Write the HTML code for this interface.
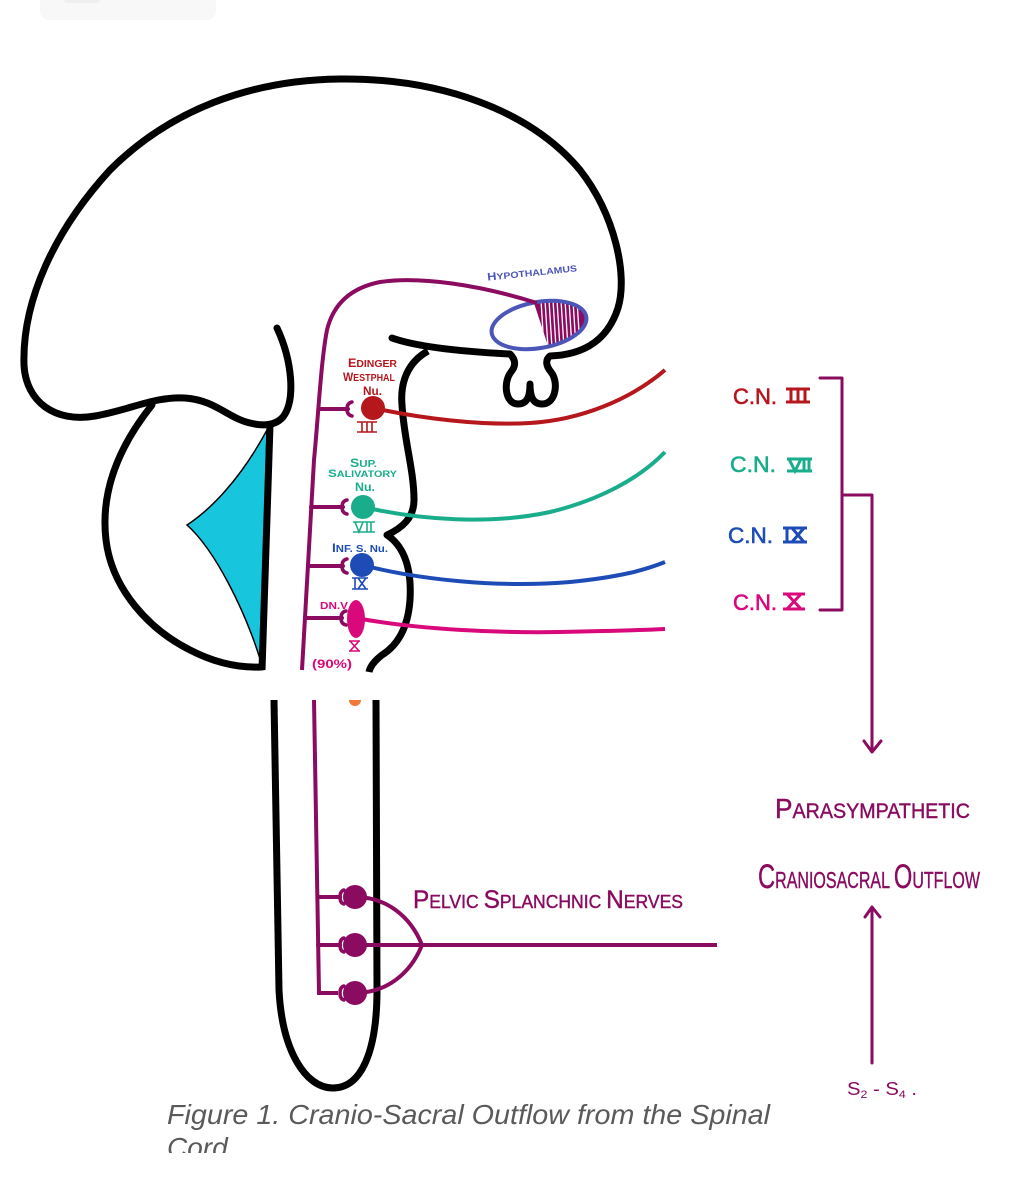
<!DOCTYPE html>
<html>
<head>
<meta charset="utf-8">
<style>
html,body{margin:0;padding:0;background:#fff;}
svg{display:block;}
text{font-family:"Liberation Sans",sans-serif;}
</style>
</head>
<body>
<svg width="1030" height="1194" viewBox="0 0 1030 1194" xmlns="http://www.w3.org/2000/svg">
<defs>
<clipPath id="hypclip"><path d="M534,303 C 560,298 586,306 588,318 C 586,332 566,342 548,346 Z"/></clipPath>
<clipPath id="capclip"><rect x="0" y="1090" width="1030" height="63"/></clipPath>
</defs>
<rect width="1030" height="1194" fill="#fff"/>
<rect x="40" y="-12" width="176" height="32" rx="9" fill="#f8f8f8"/>
<rect x="64" y="-6" width="36" height="9" rx="3" fill="#efefef"/>

<!-- cyan triangle -->
<path d="M267,430 C 240,480 210,510 187,525 C 215,550 245,610 261,662 Z" fill="#17c6dd" stroke="#000" stroke-width="1.5"/>

<g fill="none" stroke="#000" stroke-width="7" stroke-linecap="round" stroke-linejoin="round">
<!-- cerebrum -->
<path d="M277,328 C 292,360 296,400 283,417 C 275,426 262,426 250,423 C 228,418 215,400 185,398 C 155,396 130,410 95,416 C 55,423 26,402 24,365 C 22,300 55,230 110,170 C 170,110 250,80 340,79 C 440,78 530,110 580,170 C 615,215 628,275 618,308 C 606,345 578,355 550,356 C 545,360 546,366 551,372 C 559,382 556,404 542,404 C 532,404 530,395 530,384 C 530,395 528,404 518,404 C 505,404 503,382 511,372 C 516,366 516,360 510,354 C 470,352 420,348 392,338"/>
<!-- cerebellum -->
<path d="M152,405 C 120,445 100,490 106,540 C 112,590 150,630 190,650 C 215,663 240,668 262,667"/>
<path d="M270,425 L262,670" stroke-linecap="butt"/>
<!-- brainstem -->
<path d="M428,351 C 408,362 400,382 402,405 C 404,440 414,470 414,500 C 414,518 402,528 387,535 C 402,545 412,565 410,600 C 408,628 398,645 382,655 C 373,662 370,667 369,672" stroke-linecap="butt"/>
<!-- lower cord -->
<path d="M274,700 L279,990 C 282,1050 305,1088 333,1088 C 362,1088 377,1050 377,990 L376,700" stroke-linecap="butt"/>
</g>

<!-- hypothalamus -->
<path d="M534,303 C 560,298 586,306 588,318 C 586,332 566,342 548,346 Z" fill="#8a0b5f"/>
<g clip-path="url(#hypclip)" stroke="#fff" stroke-width="1.3">
<line x1="541" y1="300" x2="544" y2="348"/>
<line x1="545" y1="300" x2="548" y2="348"/>
<line x1="549" y1="300" x2="552" y2="348"/>
<line x1="553" y1="300" x2="556" y2="348"/>
<line x1="557" y1="300" x2="560" y2="348"/>
<line x1="561" y1="300" x2="564" y2="348"/>
<line x1="565" y1="300" x2="568" y2="348"/>
<line x1="569" y1="300" x2="572" y2="348"/>
<line x1="573" y1="300" x2="576" y2="348"/>
<line x1="577" y1="300" x2="580" y2="348"/>
</g>
<ellipse cx="539" cy="325" rx="48" ry="23" transform="rotate(-10 539 325)" fill="none" stroke="#4b56b8" stroke-width="4"/>
<text x="487" y="276" font-size="9" font-weight="bold" fill="#4b56b8" transform="rotate(-6 532 272)" textLength="90" lengthAdjust="spacingAndGlyphs"><tspan font-size="11">H</tspan>YPOTHALAMUS</text>

<!-- purple tract upper -->
<g fill="none" stroke="#8a0b5f" stroke-width="4" stroke-linecap="round">
<path d="M537,303 C 480,285 420,276 380,282 C 350,288 333,305 327,330 C 321,360 318,420 314,460 L302,670" stroke-linecap="butt"/>
<path d="M319,409 L348,409"/>
<path d="M311,507 L343,507"/>
<path d="M308,566 L343,566"/>
<path d="M305,618 L342,618"/>
<path d="M352,402 Q347,403 347,409 Q347,415 352,416" stroke-width="3.5"/>
<path d="M347,500 Q342,501 342,507 Q342,513 347,514" stroke-width="3.5"/>
<path d="M347,559 Q342,560 342,566 Q342,572 347,573" stroke-width="3.5"/>
<path d="M346,611 Q341,612 341,618 Q341,624 346,625" stroke-width="3.5"/>
</g>

<!-- nerves -->
<g fill="none" stroke-width="4" stroke-linecap="butt">
<path d="M373,408 C 420,418 480,426 530,423 C 580,420 630,400 665,370" stroke="#b5171d"/>
<path d="M363,507 C 420,520 490,525 550,512 C 600,500 640,478 665,452" stroke="#1aad8c"/>
<path d="M362,565 C 420,580 500,588 570,582 C 620,577 645,570 665,562" stroke="#1e4cb7"/>
<path d="M356,618 C 420,630 500,633 560,632 C 610,631 645,630 665,629" stroke="#d9097c"/>
</g>
<circle cx="373" cy="408" r="12" fill="#b5171d"/>
<circle cx="363" cy="507" r="12" fill="#1aad8c"/>
<circle cx="362" cy="565" r="12" fill="#1e4cb7"/>
<ellipse cx="356" cy="619" rx="9" ry="19" fill="#d9097c"/>

<!-- nucleus labels -->
<g font-weight="bold">
<text x="348" y="367" font-size="10" fill="#b5171d" textLength="49" lengthAdjust="spacingAndGlyphs"><tspan font-size="12">E</tspan>DINGER</text>
<text x="343" y="381" font-size="10" fill="#b5171d" textLength="52" lengthAdjust="spacingAndGlyphs"><tspan font-size="12">W</tspan>ESTPHAL</text>
<text x="363" y="395" font-size="12" fill="#b5171d" textLength="19" lengthAdjust="spacingAndGlyphs">Nu.</text>
<text x="350" y="467" font-size="10" fill="#1aad8c" textLength="27" lengthAdjust="spacingAndGlyphs"><tspan font-size="12">S</tspan>UP.</text>
<text x="328" y="477" font-size="9" fill="#1aad8c" textLength="69" lengthAdjust="spacingAndGlyphs"><tspan font-size="11">S</tspan>ALIVATORY</text>
<text x="355" y="491" font-size="12" fill="#1aad8c" textLength="20" lengthAdjust="spacingAndGlyphs">Nu.</text>
<text x="332" y="552" font-size="10" fill="#1e4cb7" textLength="56" lengthAdjust="spacingAndGlyphs"><tspan font-size="12">I</tspan>NF. S. Nu.</text>
<text x="320" y="609" font-size="10" fill="#d9097c" textLength="28" lengthAdjust="spacingAndGlyphs">DN.V</text>
<text x="312" y="668" font-size="12" fill="#d9097c" textLength="40" lengthAdjust="spacingAndGlyphs">(90%)</text>
</g>
<!-- small numerals -->
<g fill="none" stroke-width="1.6">
<g stroke="#b5171d"><path d="M357,422 H377 M357,432 H377 M362,422 V432 M367,422 V432 M372,422 V432"/></g>
<g stroke="#1aad8c"><path d="M353,522 H375 M353,532 H375 M355,522 L359,532 L363,522 M367,522 V532 M371,522 V532"/></g>
<g stroke="#1e4cb7"><path d="M352,578 H368 M352,589 H368 M355,578 V589 M358,578 L366,589 M366,578 L358,589"/></g>
<g stroke="#d9097c"><path d="M349,641 H360 M349,651 H360 M350,641 L359,651 M359,641 L350,651"/></g>
</g>

<!-- orange -->
<path d="M349,700 A6,6 0 0 0 361,700 Z" fill="#f07838"/>

<!-- lower purple -->
<g fill="none" stroke="#8a0b5f" stroke-width="4" stroke-linecap="round">
<path d="M314,700 L319,993 L338,993" stroke-linecap="butt"/>
<path d="M318,897 L340,897"/>
<path d="M318,945 L340,945"/>
<path d="M344,890 Q340,891 340,897 Q340,903 344,904" stroke-width="3.5"/>
<path d="M344,938 Q340,939 340,945 Q340,951 344,952" stroke-width="3.5"/>
<path d="M344,986 Q340,987 340,993 Q340,999 344,1000" stroke-width="3.5"/>
<path d="M355,897 C 385,897 410,915 422,945 C 410,975 385,993 355,993"/>
<path d="M355,945 L717,945" stroke-linecap="butt"/>
</g>
<circle cx="355" cy="897" r="12" fill="#8a0b5f"/>
<circle cx="355" cy="945" r="12" fill="#8a0b5f"/>
<circle cx="355" cy="993" r="12" fill="#8a0b5f"/>

<text x="413" y="908" font-size="18" fill="#8a0b5f" stroke="#8a0b5f" stroke-width="0.4" textLength="270" lengthAdjust="spacingAndGlyphs"><tspan font-size="25">P</tspan>ELVIC  <tspan font-size="25">S</tspan>PLANCHNIC  <tspan font-size="25">N</tspan>ERVES</text>

<!-- right labels -->
<g font-size="22" stroke-width="0.6">
<text x="733" y="404" fill="#b5171d" stroke="#b5171d" textLength="44" lengthAdjust="spacingAndGlyphs">C.N.</text>
<text x="730" y="472" fill="#1aad8c" stroke="#1aad8c" textLength="46" lengthAdjust="spacingAndGlyphs">C.N.</text>
<text x="728" y="543" fill="#1e4cb7" stroke="#1e4cb7" textLength="45" lengthAdjust="spacingAndGlyphs">C.N.</text>
<text x="733" y="610" fill="#d9097c" stroke="#d9097c" textLength="44" lengthAdjust="spacingAndGlyphs">C.N.</text>
</g>
<g fill="none" stroke-width="3">
<path stroke="#b5171d" d="M786,389 H810 M786,402 H810 M791,389 V402 M798,389 V402 M805,389 V402"/>
<path stroke="#1aad8c" d="M787,459 H812 M787,471 H812 M789,459 L795,471 L801,459 M804,459 V471 M809,459 V471"/>
<path stroke="#1e4cb7" d="M783,528 H807 M783,542 H807 M787,528 V542 M792,528 L804,542 M804,528 L792,542"/>
<path stroke="#d9097c" d="M783,594 H805 M783,609 H805 M787,594 L801,609 M801,594 L787,609"/>
</g>

<!-- bracket & arrows -->
<g fill="none" stroke="#8a0b5f" stroke-width="3" stroke-linecap="round" stroke-linejoin="round">
<path d="M820,378 L842,378 L842,610 L820,610"/>
<path d="M842,495 L872,495 L872,751"/>
<path d="M864,741 L872,752 L881,741"/>
<path d="M872,1063 L872,908"/>
<path d="M865,917 L872,907 L880,917"/>
</g>

<text x="775" y="818" font-size="21" fill="#8a0b5f" stroke="#8a0b5f" stroke-width="0.4" textLength="195" lengthAdjust="spacingAndGlyphs"><tspan font-size="28">P</tspan>ARASYMPATHETIC</text>
<text x="758" y="888" font-size="23" fill="#8a0b5f" stroke="#8a0b5f" stroke-width="0.4" textLength="222" lengthAdjust="spacingAndGlyphs"><tspan font-size="34">C</tspan>RANIOSACRAL <tspan font-size="34">O</tspan>UTFLOW</text>
<text x="847" y="1095" font-size="18" fill="#8a0b5f" textLength="70" lengthAdjust="spacingAndGlyphs">S<tspan font-size="11" dy="3">2</tspan><tspan dy="-3"> - S</tspan><tspan font-size="11" dy="3">4</tspan><tspan dy="-3"> .</tspan></text>

<!-- caption -->
<g clip-path="url(#capclip)" font-style="italic" fill="#5a5a5a">
<text x="167" y="1124" font-size="28" textLength="603" lengthAdjust="spacingAndGlyphs">Figure 1. Cranio-Sacral Outflow from the Spinal</text>
<text x="167" y="1157" font-size="28">Cord</text>
</g>
</svg>
</body>
</html>
